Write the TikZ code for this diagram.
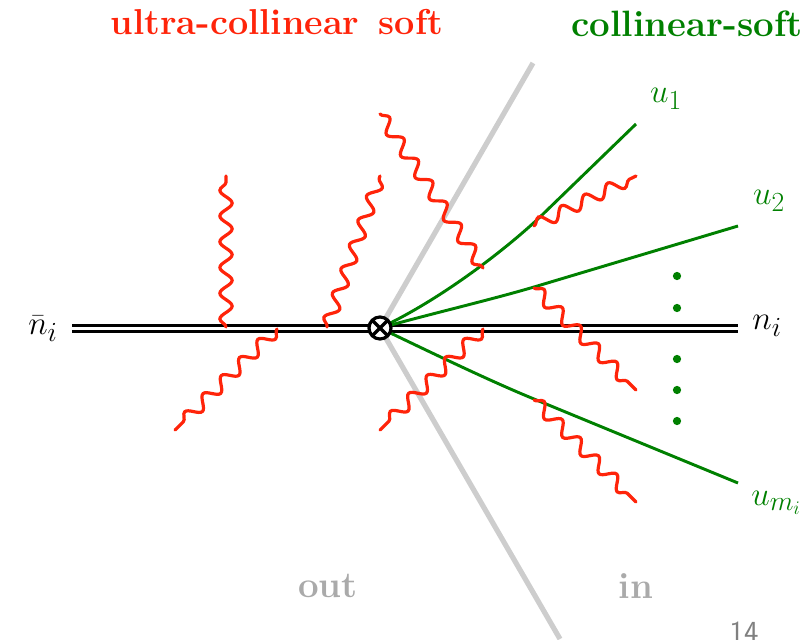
\documentclass[tikz,border=0pt]{standalone}
\usetikzlibrary{decorations.pathmorphing}
\definecolor{rd}{RGB}{255,36,10}
\definecolor{gn}{RGB}{0,128,0}
\definecolor{gl}{RGB}{205,205,205}
\definecolor{gt}{RGB}{170,170,170}
\tikzset{
 photon/.style={draw=rd,line width=2.4pt,line cap=round,decorate,decoration={snake,segment length=19.3pt,amplitude=4.6pt,pre length=0pt,post length=0pt}},
 jet/.style={draw=gn,line width=2.2pt},
 wedge/.style={draw=gl,line width=3.9pt},
 beam/.style={draw=black,line width=2.3pt},
 dotn/.style={circle,fill=gn,inner sep=0pt,minimum size=6.2pt},
 lab/.style={inner sep=0pt,font=\fontsize{29}{32}\selectfont},
 head/.style={inner sep=0pt,font=\fontsize{27.5}{30}\selectfont\bfseries},
 headb/.style={inner sep=0pt,font=\fontsize{27}{30}\selectfont\bfseries},
 vtx/.style={circle,draw=black,fill=white,line width=2.4pt,inner sep=0pt,minimum size=16.5pt,path picture={
   \draw[line width=2.4pt] (path picture bounding box.north west)--(path picture bounding box.south east)
   (path picture bounding box.north east)--(path picture bounding box.south west);}}
}
\begin{document}
\begin{tikzpicture}[x=0.75pt,y=-0.75pt]
\useasboundingbox (0,0) rectangle (810,639);
\coordinate (wt) at (533,63);
\coordinate (wb) at (560,639);
\coordinate (c) at (380,328);
\draw[wedge] (wt) -- (c) -- (wb);
% beam
\coordinate (bl) at (72,328.5);
\coordinate (br) at (738,328.5);
\draw[beam] ([yshift=-2.45pt]bl) -- ([yshift=-2.45pt]br);
\draw[beam] ([yshift=2.45pt]bl) -- ([yshift=2.45pt]br);
% jets
\coordinate (j1) at (636,124);
\coordinate (j2) at (738,226);
\coordinate (j3) at (738,483);
\coordinate (k1) at (540,217);
\coordinate (k2) at (534,287);
\coordinate (k3) at (534,399);
\draw[jet] (c) .. controls (440,300) and (505,250) .. (k1) -- (j1);
\draw[jet] (c) .. controls (430,314) and (490,300) .. (k2) -- (j2);
\draw[jet] (c) .. controls (430,352) and (490,381) .. (k3) -- (j3);
% photons
\foreach \n/\ax/\ay/\bx/\by in {a/226/327/226/176,b/327/327/380/176,d/380/114/483/268,e/277/329/175/430,f/483/329/380/430,g/534/226/636/176,h/534/288/636/390,k/534/400/636/502}{
  \coordinate (p\n s) at (\ax,\ay);
  \coordinate (p\n e) at (\bx,\by);
  \draw[photon] (p\n s) -- (p\n e);
}
\node[vtx] (v) at (c) {};
\foreach \n/\y in {1/276,2/308,3/359,4/390,5/421}{\node[dotn] (dot\n) at (677,\y) {};}
\node[headb,text=rd] (t1) at (277,22) {ultra-collinear\, soft};
\node[head,text=gn] (t2) at (687,24) {collinear-soft};
\node[lab,text=gn] (u1) at (666,99) {$u_1$};
\node[lab,text=gn] (u2) at (769,201) {$u_2$};
\node[lab,text=gn,anchor=west] (u3) at (751,503) {$u_{m_i}$};
\node[lab] (nb) at (43,329) {$\bar n_i$};
\node[lab] (n) at (767,326) {$n_i$};
\node[head,text=gt] (o) at (328,586) {out};
\node[head,text=gt] (i) at (636,586) {in};
\node[inner sep=0pt,text=gray,font=\sffamily\fontsize{23}{25}\selectfont] (pg) at (744,632) {14};
\end{tikzpicture}
\end{document}
